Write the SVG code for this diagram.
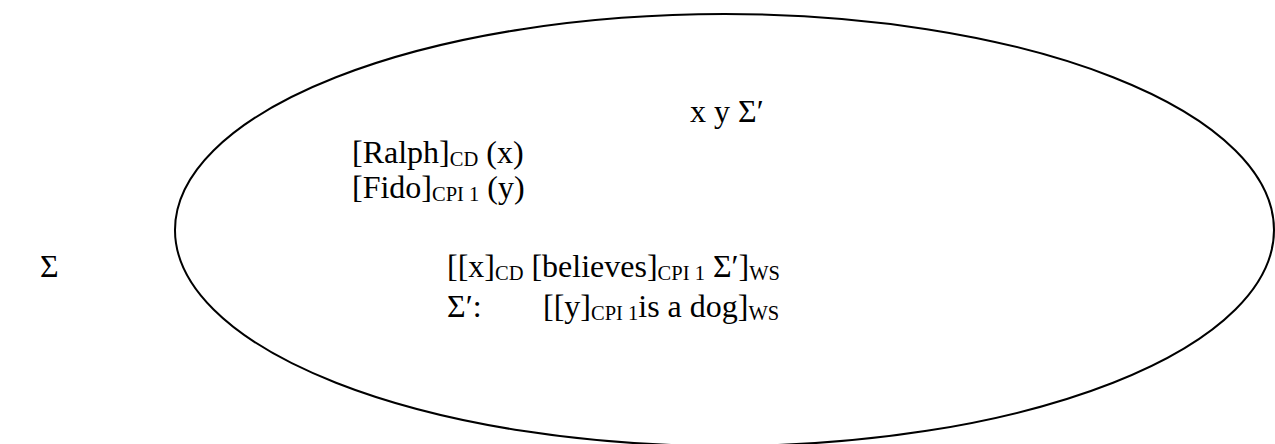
<svg xmlns="http://www.w3.org/2000/svg" width="1275" height="444" viewBox="0 0 1275 444">
<style>
text{font-family:'Liberation Serif','Times New Roman',Times,'DejaVu Serif',serif;font-size:32px;fill:#000}
.s{font-size:20.5px}
.e{fill:none;stroke:#000;stroke-width:2}
</style>
<rect width="1275" height="444" fill="#fff"/>
<g id="sigma-label"><text x="40" y="277">Σ</text></g>
<g id="box">
<ellipse class="e" cx="724.5" cy="230" rx="549.5" ry="216"/>
<g id="vars"><text x="690" y="122">x y Σ′</text></g>
<g id="ralph"><text x="352" y="163">[Ralph]<tspan class="s" dy="3">CD</tspan><tspan dy="-3"> (x)</tspan></text></g>
<g id="fido"><text x="352" y="198">[Fido]<tspan class="s" dy="3">CPI 1</tspan><tspan dy="-3"> (y)</tspan></text></g>
<g id="believes"><text x="447" y="277">[[x]<tspan class="s" dy="3">CD</tspan><tspan dy="-3"> [believes]</tspan><tspan class="s" dy="3">CPI 1</tspan><tspan dy="-3"> Σ′]</tspan><tspan class="s" dy="3">WS</tspan></text></g>
<g id="sigma-prime"><text x="447" y="317">Σ′:</text><text x="543" y="317">[[y]<tspan class="s" dy="3">CPI 1</tspan><tspan dy="-3">is a dog]</tspan><tspan class="s" dy="3">WS</tspan></text></g>
</g>
</svg>
